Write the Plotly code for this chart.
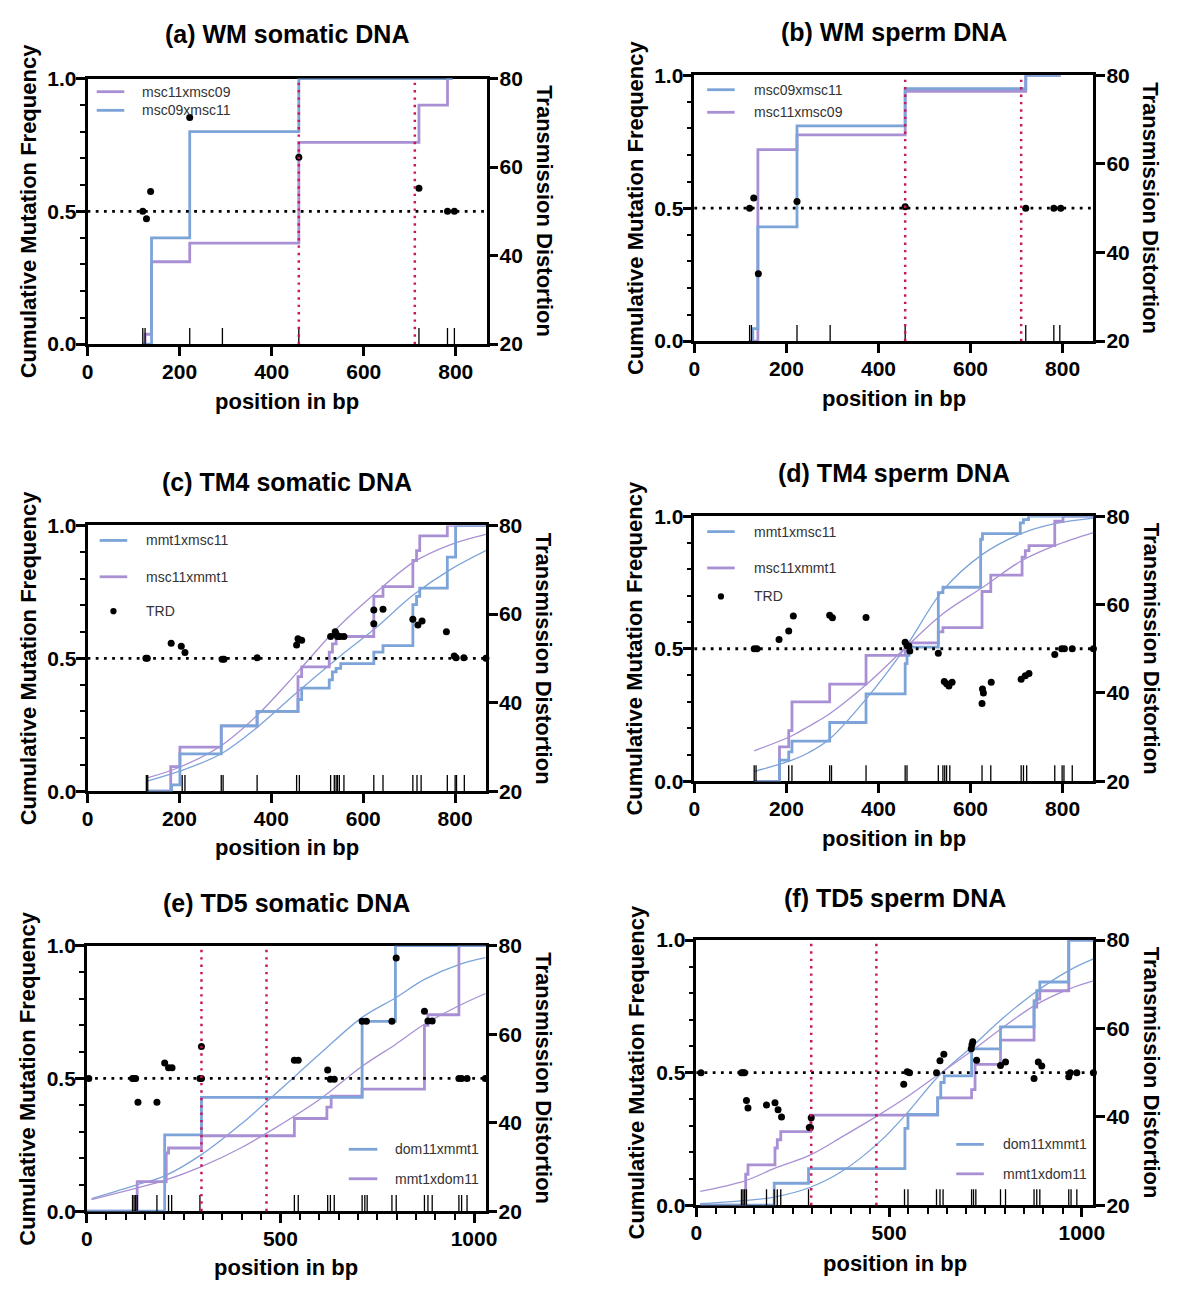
import plotly.graph_objects as go

W, H = 1185, 1293
OFF = 8  # default page margin around the figure
FW, FH = W - 2 * OFF, H - 2 * OFF
BLUE = "#7ca4d8"
PURPLE = "#a990d4"
RED = "#c8195f"
FONT = "Liberation Sans, Arial, sans-serif"

# ---- (a) WM somatic DNA
a_blue_x = [120, 139, 222, 459, 793]
a_blue_y = [0, 0.40, 0.80, 1.0, 1.0]
a_purple_x = [120, 125, 139, 222, 459, 720, 782, 793]
a_purple_y = [0, 0.037, 0.31, 0.38, 0.76, 0.90, 1.0, 1.0]
a_trd_x = [120, 128, 137, 222, 459, 720, 782, 797]
a_trd_y = [50, 48.3, 54.5, 71.2, 62.2, 55.2, 50, 50]
a_sites = [120, 125, 222, 293, 459, 720, 782, 797]
a_marks = [459, 711]

# ---- (b) WM sperm DNA
b_blue_x = [120, 127, 138, 223, 458, 720, 796]
b_blue_y = [0, 0.047, 0.43, 0.81, 0.95, 1.0, 1.0]
b_purple_x = [120, 138, 223, 458, 720, 796]
b_purple_y = [0, 0.72, 0.776, 0.94, 1.0, 1.0]
b_trd_x = [120, 129, 139, 223, 458, 720, 781, 796]
b_trd_y = [50, 52.3, 35.2, 51.5, 50.3, 50, 50, 50]
b_sites = [120, 124, 223, 295, 458, 720, 781, 794]
b_marks = [458, 710]

# ---- (c) TM4 somatic DNA
c_blue_x = [130, 183, 201, 291, 369, 458, 466, 526, 533, 541, 551, 623, 643, 708, 716, 723, 783, 801, 867]
c_blue_y = [0, 0.024, 0.14, 0.246, 0.30, 0.345, 0.388, 0.419, 0.449, 0.462, 0.48, 0.523, 0.548, 0.702, 0.733, 0.764, 0.881, 1.0, 1.0]
c_purple_x = [130, 181, 201, 291, 369, 458, 466, 526, 533, 541, 623, 643, 708, 716, 723, 783, 867]
c_purple_y = [0, 0.092, 0.166, 0.246, 0.30, 0.431, 0.468, 0.523, 0.554, 0.582, 0.733, 0.77, 0.868, 0.905, 0.961, 1.0, 1.0]
c_fit_blue_x = [130, 200, 290, 369, 458, 551, 623, 708, 786, 867]
c_fit_blue_y = [0.038, 0.075, 0.14, 0.24, 0.375, 0.51, 0.608, 0.737, 0.83, 0.905]
c_fit_purple_x = [130, 200, 290, 369, 458, 544, 623, 708, 786, 867]
c_fit_purple_y = [0.05, 0.09, 0.17, 0.285, 0.45, 0.615, 0.74, 0.86, 0.925, 0.966]
c_trd_x = [127, 130, 182, 204, 212, 293, 297, 369, 455, 458, 466, 529, 539, 541, 544, 550, 558,
           623, 623, 643, 708, 719, 728, 781, 798, 802, 819, 867]
c_trd_y = [50, 50, 53.4, 52.7, 51.3, 49.8, 49.8, 50.1, 53.0, 54.4, 54.1, 54.9, 56.0, 55.5, 54.9, 54.9, 54.9,
           57.8, 60.9, 61.1, 58.8, 57.5, 58.4, 56.0, 50.5, 50.1, 50.1, 50]
c_sites = [128, 131, 206, 212, 291, 295, 369, 455, 461, 529, 537, 541, 544, 548, 558, 623, 643,
           708, 717, 726, 783, 800, 803, 820]

# ---- (d) TM4 sperm DNA
d_blue_x = [130, 185, 205, 212, 294, 373, 458, 462, 466, 530, 540, 622, 626, 708, 715, 726, 867]
d_blue_y = [0, 0.08, 0.111, 0.152, 0.222, 0.33, 0.444, 0.475, 0.506, 0.712, 0.732, 0.913, 0.934, 0.975, 0.987, 1.0, 1.0]
d_purple_x = [130, 185, 205, 212, 294, 373, 458, 530, 540, 625, 644, 712, 719, 727, 783, 801, 867]
d_purple_y = [0, 0.13, 0.191, 0.30, 0.367, 0.475, 0.522, 0.564, 0.58, 0.716, 0.778, 0.846, 0.87, 0.889, 0.981, 1.0, 1.0]
d_fit_blue_x = [130, 212, 248, 294, 373, 458, 540, 625, 711, 783, 867]
d_fit_blue_y = [0.037, 0.08, 0.108, 0.16, 0.31, 0.503, 0.72, 0.855, 0.935, 0.972, 0.993]
d_fit_purple_x = [130, 212, 248, 294, 373, 458, 540, 625, 711, 783, 867]
d_fit_purple_y = [0.115, 0.172, 0.207, 0.255, 0.364, 0.503, 0.632, 0.73, 0.832, 0.889, 0.938]
d_trd_x = [130, 136, 184, 205, 215, 294, 300, 373, 458, 462, 466, 468, 530, 543, 548, 553, 560,
           625, 626, 628, 645, 710, 719, 727, 783, 798, 804, 821, 867]
d_trd_y = [50, 50, 52.1, 54.0, 57.4, 57.6, 57.0, 57.1, 51.5, 50.7, 50.6, 49.5, 49.0, 42.6, 42.1, 41.6, 42.4,
           37.6, 40.9, 40.0, 42.4, 43.1, 43.9, 44.4, 48.7, 50, 50, 50, 50]
d_sites = [130, 134, 205, 212, 294, 298, 373, 458, 462, 530, 540, 544, 548, 555, 625, 644,
           710, 715, 722, 783, 799, 803, 821]

# ---- (e) TD5 somatic DNA
e_blue_x = [0, 201, 296, 711, 797, 1030]
e_blue_y = [0, 0.287, 0.429, 0.715, 1.0, 1.0]
e_purple_x = [0, 130, 205, 211, 296, 536, 620, 631, 711, 872, 881, 961, 1030]
e_purple_y = [0, 0.111, 0.219, 0.238, 0.284, 0.349, 0.392, 0.433, 0.46, 0.70, 0.74, 1.0, 1.0]
e_fit_blue_x = [12, 131, 201, 296, 400, 478, 600, 711, 799, 872, 961, 1030]
e_fit_blue_y = [0.047, 0.10, 0.133, 0.213, 0.33, 0.43, 0.59, 0.73, 0.805, 0.873, 0.929, 0.955]
e_fit_purple_x = [12, 131, 201, 296, 400, 478, 600, 711, 799, 872, 961, 1030]
e_fit_purple_y = [0.043, 0.088, 0.116, 0.168, 0.24, 0.306, 0.42, 0.546, 0.63, 0.704, 0.774, 0.82]
e_trd_x = [5, 118, 122, 126, 132, 181, 201, 211, 220, 292, 296, 296, 536, 546, 622, 629, 639,
           711, 722, 788, 799, 872, 881, 892, 961, 968, 982, 1029]
e_trd_y = [50, 50, 50, 50, 44.6, 44.6, 53.5, 52.4, 52.4, 50, 50, 57.2, 54.1, 54.1, 51.9, 49.8, 49.8,
           62.9, 62.9, 62.9, 77.2, 65.2, 63.0, 63.0, 50, 50, 50, 50]
e_sites = [118, 122, 126, 130, 181, 211, 219, 292, 536, 546, 622, 629, 639, 711, 718, 724,
           788, 799, 872, 881, 892, 961, 968, 982]
e_marks = [296, 464]

# ---- (f) TD5 sperm DNA
f_blue_x = [10, 202, 291, 541, 549, 626, 634, 643, 714, 789, 876, 883, 891, 966, 1030]
f_blue_y = [0, 0.083, 0.138, 0.29, 0.343, 0.405, 0.463, 0.488, 0.59, 0.673, 0.772, 0.809, 0.842, 1.0, 1.0]
f_purple_x = [10, 128, 134, 204, 210, 219, 296, 626, 714, 723, 789, 876, 883, 891, 966, 1030]
f_purple_y = [0, 0.117, 0.152, 0.216, 0.247, 0.278, 0.34, 0.405, 0.436, 0.531, 0.623, 0.747, 0.778, 0.809, 1.0, 1.0]
f_fit_blue_x = [10, 100, 202, 296, 380, 476, 548, 627, 714, 789, 876, 966, 1030]
f_fit_blue_y = [0.006, 0.015, 0.031, 0.068, 0.13, 0.24, 0.35, 0.485, 0.597, 0.698, 0.80, 0.885, 0.929]
f_fit_purple_x = [10, 128, 204, 296, 380, 476, 548, 627, 714, 789, 876, 966, 1030]
f_fit_purple_y = [0.052, 0.093, 0.14, 0.19, 0.26, 0.343, 0.41, 0.492, 0.582, 0.664, 0.752, 0.815, 0.846]
f_trd_x = [12, 117, 121, 125, 130, 134, 182, 204, 212, 221, 293, 296, 298, 538, 547, 553, 623, 632, 642,
           713, 715, 717, 727, 789, 802, 876, 887, 896, 966, 970, 987, 1030]
f_trd_y = [50, 50, 50, 50, 43.7, 42.0, 42.7, 43.2, 41.6, 40.0, 37.6, 37.6, 39.8, 47.4, 50.2, 50.0, 50, 52.7, 54.2,
           55.4, 56.3, 57.0, 52.8, 51.6, 52.4, 48.7, 52.4, 51.5, 49.1, 50, 50, 50]
f_sites = [117, 121, 125, 130, 182, 202, 210, 219, 291, 540, 549, 623, 632, 640, 714, 719, 725,
           789, 802, 876, 883, 891, 966, 972, 987]
f_marks = [298, 467]

panels = [
    dict(title="(a) WM somatic DNA", blue=(a_blue_x, a_blue_y), purple=(a_purple_x, a_purple_y),
         fits=None, trd=(a_trd_x, a_trd_y), sites=a_sites, marks=a_marks, xmax=867,
         legend=[("msc11xmsc09", PURPLE), ("msc09xmsc11", BLUE)]),
    dict(title="(b) WM sperm DNA", blue=(b_blue_x, b_blue_y), purple=(b_purple_x, b_purple_y),
         fits=None, trd=(b_trd_x, b_trd_y), sites=b_sites, marks=b_marks, xmax=867,
         legend=[("msc09xmsc11", BLUE), ("msc11xmsc09", PURPLE)]),
    dict(title="(c) TM4 somatic DNA", blue=(c_blue_x, c_blue_y), purple=(c_purple_x, c_purple_y),
         fits=((c_fit_blue_x, c_fit_blue_y), (c_fit_purple_x, c_fit_purple_y)),
         trd=(c_trd_x, c_trd_y), sites=c_sites, marks=[], xmax=867,
         legend=[("mmt1xmsc11", BLUE), ("msc11xmmt1", PURPLE), ("TRD", None)]),
    dict(title="(d) TM4 sperm DNA", blue=(d_blue_x, d_blue_y), purple=(d_purple_x, d_purple_y),
         fits=((d_fit_blue_x, d_fit_blue_y), (d_fit_purple_x, d_fit_purple_y)),
         trd=(d_trd_x, d_trd_y), sites=d_sites, marks=[], xmax=867,
         legend=[("mmt1xmsc11", BLUE), ("msc11xmmt1", PURPLE), ("TRD", None)]),
    dict(title="(e) TD5 somatic DNA", blue=(e_blue_x, e_blue_y), purple=(e_purple_x, e_purple_y),
         fits=((e_fit_blue_x, e_fit_blue_y), (e_fit_purple_x, e_fit_purple_y)),
         trd=(e_trd_x, e_trd_y), sites=e_sites, marks=e_marks, xmax=1030,
         legend=[("dom11xmmt1", BLUE), ("mmt1xdom11", PURPLE)]),
    dict(title="(f) TD5 sperm DNA", blue=(f_blue_x, f_blue_y), purple=(f_purple_x, f_purple_y),
         fits=((f_fit_blue_x, f_fit_blue_y), (f_fit_purple_x, f_fit_purple_y)),
         trd=(f_trd_x, f_trd_y), sites=f_sites, marks=f_marks, xmax=1030,
         legend=[("dom11xmmt1", BLUE), ("mmt1xdom11", PURPLE)]),
]

# pixel layout (page coordinates) of each panel: plot box (left, right, top, bottom),
# title y, xlabel y, legend (line x0, line x1, text x, row ys)
boxes = [(82.7, 488, 67.7, 338), (699, 1104.3, 64.3, 335),
         (82.7, 487.3, 522.7, 793.3), (699, 1104.3, 513.3, 783.3),
         (82, 487, 950.7, 1221), (701, 1104.3, 945, 1215)]
title_y = [22, 20, 478, 469, 907, 902]
xlab_y = [396, 393, 851, 842, 1278, 1274]
legends = [(92, 120, 136, [81, 100]), (712, 740, 758, [79, 102]),
           (95, 123, 140, [538, 575, 610]), (712, 740, 758, [529, 566, 595]),
           (348, 377, 393, [1158, 1188]), (965, 993, 1010, [1153, 1183])]


def fx(p):
    return (p - OFF) / FW


def fy(p):
    return 1 - (p - OFF) / FH


def axname(letter, k):
    return letter if k == 1 else f"{letter}{k}"


fig = go.Figure()
shapes = []
annotations = []
layout = dict(width=FW, height=FH, margin=dict(l=0, r=0, t=0, b=0),
              plot_bgcolor="white", paper_bgcolor="white", showlegend=False,
              font=dict(family=FONT, color="black"))

for i, p in enumerate(panels):
    n = i + 1
    xa, ya, yb = axname("x", n), axname("y", 2 * i + 1), axname("y", 2 * i + 2)
    left, right, top, bottom = boxes[i]

    if p["fits"]:
        for (fxs, fys), col in zip(p["fits"], [BLUE, PURPLE]):
            fig.add_trace(go.Scatter(x=fxs, y=fys, mode="lines", line=dict(color=col, width=1.3, shape="spline"),
                                     xaxis=xa, yaxis=ya, cliponaxis=False))
    for key, col in [("purple", PURPLE), ("blue", BLUE)]:
        sx, sy = p[key]
        fig.add_trace(go.Scatter(x=sx, y=sy, mode="lines", line=dict(color=col, width=2.8, shape="hv"),
                                 xaxis=xa, yaxis=ya, cliponaxis=False))
    fig.add_trace(go.Scatter(x=p["sites"], y=[0] * len(p["sites"]), mode="markers",
                             marker=dict(symbol="line-ns", size=23, line=dict(width=1.3, color="black")),
                             xaxis=xa, yaxis=ya, cliponaxis=True))
    tx, ty = p["trd"]
    fig.add_trace(go.Scatter(x=tx, y=ty, mode="markers", marker=dict(color="black", size=7),
                             xaxis=xa, yaxis=yb, cliponaxis=False))

    big = p["xmax"] > 900
    xkey = "xaxis" + ("" if n == 1 else str(n))
    ykey = "yaxis" + ("" if i == 0 else str(2 * i + 1))
    y2key = f"yaxis{2 * i + 2}"
    common = dict(showline=True, linewidth=2.6, linecolor="black", ticks="outside", ticklen=9,
                  tickwidth=2.6, tickcolor="black", showgrid=False, zeroline=False, layer="below traces",
                  tickfont=dict(family=FONT, size=21, color="black", weight="bold"))
    layout[xkey] = dict(common, domain=[fx(left), fx(right)], range=[0, p["xmax"]], anchor=ya, mirror=True,
                        tickvals=[0, 500, 1000] if big else [0, 200, 400, 600, 800], ticklabelstandoff=-2)
    if big:
        layout[xkey]["minor"] = dict(dtick=50, ticks="outside", ticklen=6, tickwidth=2, tickcolor="black")
    layout[ykey] = dict(common, domain=[fy(bottom), fy(top)], range=[0, 1], anchor=xa,
                        tickvals=[0, 0.5, 1.0], tickformat=".1f", ticklabelstandoff=-5,
                        minor=dict(dtick=0.1, ticks="outside", ticklen=5, tickwidth=2, tickcolor="black"))
    layout[y2key] = dict(common, range=[20, 80], overlaying=ya, side="right", anchor=xa,
                         tickvals=[20, 40, 60, 80], ticklabelstandoff=-3)

    # neutral transmission line and marked positions
    shapes.append(dict(type="line", xref=f"{xa} domain", x0=0, x1=1, yref=yb, y0=50, y1=50,
                       line=dict(color="black", width=2.8, dash="2.8px,5.4px"), layer="above"))
    for m in p["marks"]:
        shapes.append(dict(type="line", xref=xa, x0=m, x1=m, yref=f"{ya} domain", y0=0, y1=1,
                           line=dict(color=RED, width=2.5, dash="2.4px,5px"), layer="above"))

    cx = (left + right) / 2
    cy = (top + bottom) / 2
    annotations.append(dict(text=p["title"], x=fx(cx), y=fy(title_y[i]), xref="paper", yref="paper",
                            showarrow=False, xanchor="center", yanchor="middle",
                            font=dict(size=25, weight="bold")))
    annotations.append(dict(text="position in bp", x=fx(cx), y=fy(xlab_y[i]), xref="paper", yref="paper",
                            showarrow=False, xanchor="center", yanchor="middle",
                            font=dict(size=22, weight="bold")))
    annotations.append(dict(text="Cumulative Mutation Frequency", x=fx(left - 60.5), y=fy(cy),
                            xref="paper", yref="paper", showarrow=False, textangle=-90,
                            xanchor="center", yanchor="middle", font=dict(size=22, weight="bold")))
    annotations.append(dict(text="Transmission Distortion", x=fx(right + 58.5), y=fy(cy),
                            xref="paper", yref="paper", showarrow=False, textangle=90,
                            xanchor="center", yanchor="middle", font=dict(size=22, weight="bold")))

    lx0, lx1, ltx, rows = legends[i]
    for (label, col), ry in zip(p["legend"], rows):
        if col is None:
            mx = (lx0 + lx1) / 2
            shapes.append(dict(type="circle", xref="paper", yref="paper", x0=fx(mx - 3.2), x1=fx(mx + 3.2),
                               y0=fy(ry - 3.2), y1=fy(ry + 3.2), fillcolor="black", line=dict(width=0)))
        else:
            shapes.append(dict(type="line", xref="paper", yref="paper", x0=fx(lx0), x1=fx(lx1),
                               y0=fy(ry), y1=fy(ry), line=dict(color=col, width=2.8)))
        annotations.append(dict(text=label, x=fx(ltx), y=fy(ry), xref="paper", yref="paper",
                                showarrow=False, xanchor="left", yanchor="middle",
                                font=dict(size=14, color="#333333")))

layout["shapes"] = shapes
layout["annotations"] = annotations
fig.update_layout(layout)

fig.write_html("out.html", config={"displayModeBar": False})
